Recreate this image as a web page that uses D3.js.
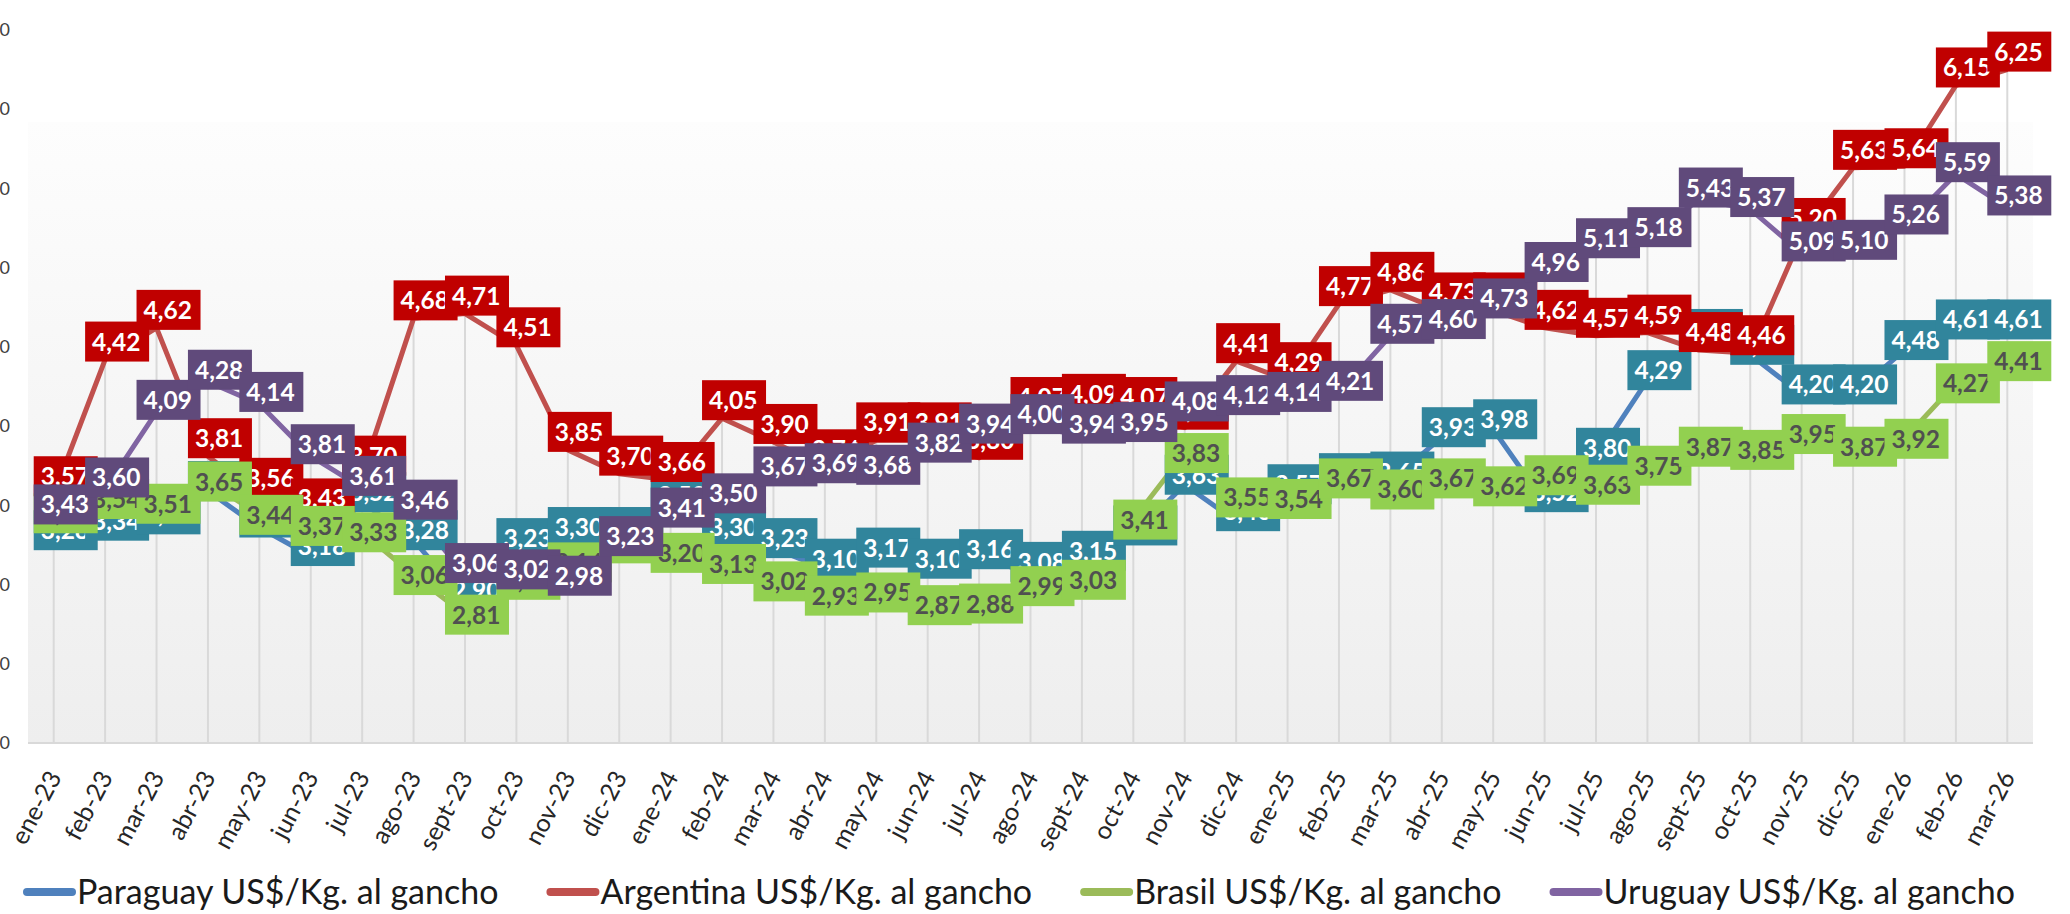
<!DOCTYPE html>
<html>
<head>
<meta charset="utf-8">
<script src="https://cdnjs.cloudflare.com/ajax/libs/d3/7.8.5/d3.min.js"></script>
<style>
  body { margin: 0; background: #fff; }
  svg { display: block; font-family: Lato, "Open Sans", sans-serif; }
</style>
</head>
<body>
<svg class="chart"></svg>
<script>
var width = 2070
var height = 914

// meses
var months = ['ene-23', 'feb-23', 'mar-23', 'abr-23', 'may-23', 'jun-23', 'jul-23', 'ago-23', 'sept-23', 'oct-23', 'nov-23', 'dic-23',
    'ene-24', 'feb-24', 'mar-24', 'abr-24', 'may-24', 'jun-24', 'jul-24', 'ago-24', 'sept-24', 'oct-24', 'nov-24', 'dic-24',
    'ene-25', 'feb-25', 'mar-25', 'abr-25', 'may-25', 'jun-25', 'jul-25', 'ago-25', 'sept-25', 'oct-25', 'nov-25', 'dic-25',
    'ene-26', 'feb-26', 'mar-26']

var paraguay = [3.28, 3.34, 3.38, 3.59, 3.36, 3.18, 3.52, 3.28, 2.90, 3.23, 3.30, 3.30,
    3.50, 3.30, 3.23, 3.10, 3.17, 3.10, 3.16, 3.08, 3.15, 3.31, 3.63, 3.40,
    3.57, 3.64, 3.65, 3.93, 3.98, 3.52, 3.80, 4.29, 4.55, 4.45, 4.20, 4.20,
    4.48, 4.61, 4.61]

var argentina = [3.57, 4.42, 4.62, 3.81, 3.56, 3.43, 3.70, 4.68, 4.71, 4.51, 3.85, 3.70,
    3.66, 4.05, 3.90, 3.74, 3.91, 3.91, 3.80, 4.07, 4.09, 4.07, 3.99, 4.41,
    4.29, 4.77, 4.86, 4.73, 4.73, 4.62, 4.57, 4.59, 4.48, 4.46, 5.20, 5.63,
    5.64, 6.15, 6.25]

var brasil = [3.45, 3.54, 3.51, 3.65, 3.44, 3.37, 3.33, 3.06, 2.81, 3.03, 3.14, 3.26,
    3.20, 3.13, 3.02, 2.93, 2.95, 2.87, 2.88, 2.99, 3.03, 3.41, 3.83, 3.55,
    3.54, 3.67, 3.60, 3.67, 3.62, 3.69, 3.63, 3.75, 3.87, 3.85, 3.95, 3.87,
    3.92, 4.27, 4.41]

var uruguay = [3.43, 3.60, 4.09, 4.28, 4.14, 3.81, 3.61, 3.46, 3.06, 3.02, 2.98, 3.23,
    3.41, 3.50, 3.67, 3.69, 3.68, 3.82, 3.94, 4.00, 3.94, 3.95, 4.08, 4.12,
    4.14, 4.21, 4.57, 4.60, 4.73, 4.96, 5.11, 5.18, 5.43, 5.37, 5.09, 5.10,
    5.26, 5.59, 5.38]

var yTicks = [2.0, 2.5, 3.0, 3.5, 4.0, 4.5, 5.0, 5.5, 6.0, 6.5]

var series = [
    { name: 'Paraguay US$/Kg. al gancho', values: paraguay, line: '#4F81BD', box: '#31859C', text: '#ffffff', dy: -10 },
    { name: 'Argentina US$/Kg. al gancho', values: argentina, line: '#C0504D', box: '#C00000', text: '#ffffff', dy: -18 },
    { name: 'Brasil US$/Kg. al gancho', values: brasil, line: '#9BBB59', box: '#92D050', text: '#505050', dy: 0 },
    { name: 'Uruguay US$/Kg. al gancho', values: uruguay, line: '#8064A2', box: '#604A7B', text: '#ffffff', dy: -12 }
]

var plot = { left: 28, right: 2033, top: 30, bottom: 743 }

var svg = d3.select('.chart')
    .attr('width', width)
    .attr('height', height)

var x = d3.scalePoint()
    .domain(months)
    .range([plot.left, plot.right])
    .padding(0.5)

var y = d3.scaleLinear()
    .domain([2, 6.5])
    .range([plot.bottom, plot.top])

var fmt = function (v) { return d3.format('.2f')(v).replace('.', ',') }

// fondo degradado
var defs = svg.append('defs')
var grad = defs.append('linearGradient')
    .attr('id', 'bg')
    .attr('x1', 0).attr('y1', 0).attr('x2', 0).attr('y2', 1)
grad.append('stop').attr('offset', '0%').attr('stop-color', '#fdfdfd')
grad.append('stop').attr('offset', '100%').attr('stop-color', '#eeeeee')

svg.append('rect')
    .attr('x', plot.left)
    .attr('y', 122)
    .attr('width', plot.right - plot.left)
    .attr('height', plot.bottom - 122)
    .attr('fill', 'url(#bg)')

// eje y (cortado a la izquierda)
var yAxis = svg.append('g')
    .attr('transform', 'translate(10,0)')
    .call(d3.axisLeft(y).tickValues(yTicks).tickFormat(fmt).tickSize(0).tickPadding(0))
yAxis.select('.domain').remove()
yAxis.selectAll('text')
    .attr('font-size', 18)
    .attr('font-family', 'Lato, sans-serif')
    .attr('fill', '#404040')

// lineas de unión al eje
var maxes = months.map(function (m, i) {
    return d3.max(series, function (s) { return s.values[i] })
})
svg.append('g')
    .selectAll('line')
    .data(months)
    .join('line')
    .attr('x1', function (d) { return x(d) })
    .attr('x2', function (d) { return x(d) })
    .attr('y1', function (d, i) { return y(maxes[i]) })
    .attr('y2', plot.bottom)
    .attr('stroke', '#d9d9d9')
    .attr('stroke-width', 2)

svg.append('line')
    .attr('x1', plot.left)
    .attr('x2', plot.right)
    .attr('y1', plot.bottom)
    .attr('y2', plot.bottom)
    .attr('stroke', '#d9d9d9')
    .attr('stroke-width', 2)

// eje x
var xAxis = svg.append('g')
    .attr('transform', 'translate(0,' + plot.bottom + ')')
    .call(d3.axisBottom(x).tickSize(0))
xAxis.select('.domain').remove()
xAxis.selectAll('text')
    .attr('x', 8)
    .attr('y', 34)
    .attr('dy', 0)
    .attr('text-anchor', 'end')
    .attr('transform', 'rotate(-62,8,34)')
    .attr('font-size', 25)
    .attr('font-family', 'Lato, sans-serif')
    .attr('fill', '#262626')

// lineas
var line = d3.line()
    .x(function (d, i) { return x(months[i]) })
    .y(function (d) { return y(d) })

svg.append('g')
    .selectAll('path')
    .data(series)
    .join('path')
    .attr('d', function (s) { return line(s.values) })
    .attr('fill', 'none')
    .attr('stroke', function (s) { return s.line })
    .attr('stroke-width', 5)
    .attr('stroke-linejoin', 'round')

// etiquetas de datos
var boxW = 64, boxH = 40
series.forEach(function (s) {
    var g = svg.append('g')
    var lab = g.selectAll('g')
        .data(s.values)
        .join('g')
        .attr('transform', function (d, i) {
            return 'translate(' + (x(months[i]) + 12 - boxW / 2) + ',' + (y(d) + s.dy - boxH / 2) + ')'
        })
    lab.append('rect')
        .attr('width', boxW)
        .attr('height', boxH)
        .attr('fill', s.box)
    lab.append('text')
        .attr('x', 7)
        .attr('y', boxH / 2 + 9)
        .attr('font-size', 24.5)
        .attr('font-weight', 700)
        .attr('font-family', 'Lato, sans-serif')
        .attr('fill', s.text)
        .text(fmt)
})

// leyenda
var legend = svg.append('g').attr('transform', 'translate(0,892)')
var items = legend.selectAll('g')
    .data(series)
    .join('g')
items.append('line')
    .attr('x1', 5).attr('x2', 50)
    .attr('y1', 0).attr('y2', 0)
    .attr('stroke', function (s) { return s.line })
    .attr('stroke-width', 8)
    .attr('stroke-linecap', 'round')
items.append('text')
    .attr('x', 55)
    .attr('y', 12)
    .attr('font-size', 34)
    .attr('font-family', 'Lato, sans-serif')
    .attr('fill', '#1a1a1a')
    .text(function (s) { return s.name })

var widths = []
items.select('text').each(function () { widths.push(55 + this.getComputedTextLength()) })
var gap = (2015 - 22 - d3.sum(widths)) / (series.length - 1)
var pos = 22
items.attr('transform', function (d, i) {
    var t = 'translate(' + pos + ',0)'
    pos += widths[i] + gap
    return t
})
</script>
</body>
</html>
